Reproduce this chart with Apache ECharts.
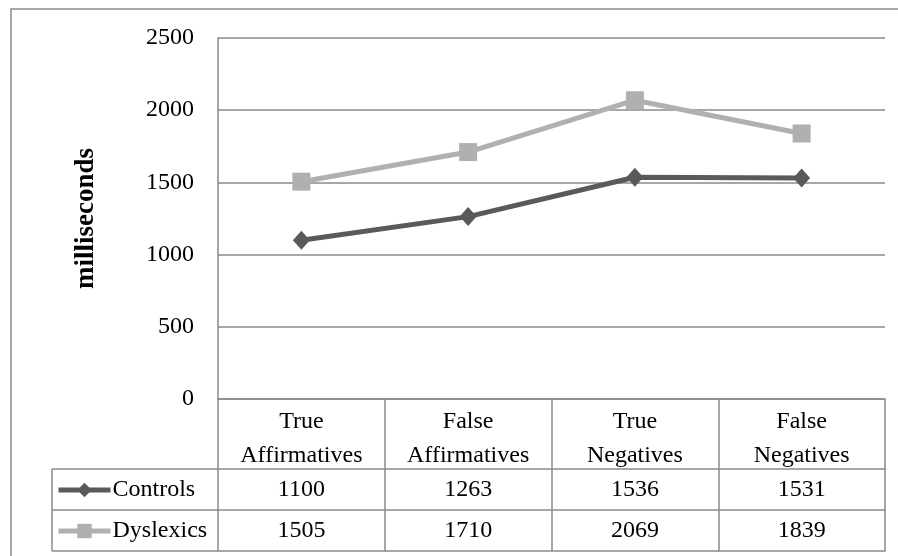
<!DOCTYPE html>
<html>
<head>
<meta charset="utf-8">
<script src="https://cdn.jsdelivr.net/npm/echarts@6/dist/echarts.min.js"></script>
<style>
  html, body { margin: 0; padding: 0; background: #fff; }
  #chart { width: 898px; height: 556px; }
</style>
</head>
<body>
<div id="chart"></div>
<script>
// Response times per condition
const categories = ['True\nAffirmatives', 'False\nAffirmatives', 'True\nNegatives', 'False\nNegatives'];
const seriesNames = ['Controls', 'Dyslexics'];
const controls = [1100, 1263, 1536, 1531];
const dyslexics = [1505, 1710, 2069, 1839];
const yTicks = [0, 500, 1000, 1500, 2000, 2500];

const FONT = '"Liberation Serif", "Times New Roman", serif';
const GRID_COLOR = '#8a8a8a';
const FS = 24;
const DARK = '#5a5a5a';
const LIGHT = '#b0b0b0';

// grid geometry (px)
const G = { left: 218, right: 13, top: 38, bottom: 157 };
const ROW_HEADER = 70;   // header row with category names
const ROW = 41;          // each data row
const TABLE_LEFT = 52;

const chart = echarts.init(document.getElementById('chart'), null, { renderer: 'canvas' });

const gridBottomY = 556 - G.bottom;
const rowLines = [gridBottomY + ROW_HEADER, gridBottomY + ROW_HEADER + ROW, gridBottomY + ROW_HEADER + 2 * ROW];

function valueAxis(values, offset) {
  return {
    type: 'category',
    gridIndex: 0,
    position: 'bottom',
    offset: offset,
    data: values.map(String),
    boundaryGap: true,
    axisLine: { show: true, lineStyle: { color: GRID_COLOR, width: 1.5 } },
    axisTick: { show: false },
    axisLabel: { show: true, interval: 0, margin: 0, fontSize: FS, lineHeight: ROW, color: '#000', fontFamily: FONT }
  };
}

const option = {
  animation: false,
  backgroundColor: '#fff',
  grid: { left: G.left, right: G.right, top: G.top, bottom: G.bottom, containLabel: false },
  legend: {
    orient: 'vertical',
    left: 56,
    top: rowLines[0] + 9,
    padding: 0,
    itemGap: 17,
    itemWidth: 52,
    itemHeight: 18,
    selectedMode: false,
    data: seriesNames,
    lineStyle: { width: 5 },
    textStyle: { fontSize: FS, color: '#000', fontFamily: FONT, padding: [0, 0, 0, -3] }
  },
  xAxis: [
    {
      type: 'category',
      gridIndex: 0,
      data: categories,
      boundaryGap: true,
      axisLine: { show: true, lineStyle: { color: GRID_COLOR, width: 1.5 } },
      axisTick: { show: true, interval: 0, inside: false, length: ROW_HEADER + 2 * ROW, lineStyle: { color: GRID_COLOR, width: 1.5 } },
      axisLabel: { interval: 0, margin: 6, fontSize: FS, lineHeight: 34, color: '#000', fontFamily: FONT, align: 'center' }
    },
    valueAxis(controls, ROW_HEADER),
    valueAxis(dyslexics, ROW_HEADER + ROW),
    {
      type: 'category',
      gridIndex: 0,
      position: 'bottom',
      offset: ROW_HEADER + 2 * ROW,
      data: categories,
      axisLine: { show: true, lineStyle: { color: GRID_COLOR, width: 1.5 } },
      axisTick: { show: false },
      axisLabel: { show: false }
    }
  ],
  yAxis: {
    type: 'value',
    min: yTicks[0],
    max: yTicks[yTicks.length - 1],
    interval: 500,
    name: 'milliseconds',
    nameLocation: 'middle',
    nameRotate: 90,
    nameGap: 118,
    nameTextStyle: { fontSize: 27, fontWeight: 'bold', color: '#000', fontFamily: FONT },
    axisLine: { show: true, lineStyle: { color: GRID_COLOR, width: 1.5 } },
    axisTick: { show: false },
    axisLabel: { margin: 24, fontSize: FS, color: '#000', fontFamily: FONT, formatter: v => String(v) },
    splitLine: { show: true, lineStyle: { color: GRID_COLOR, width: 1.5 } }
  },
  series: [
    {
      name: seriesNames[0],
      type: 'line',
      data: controls,
      symbol: 'diamond',
      symbolSize: [17, 19],
      lineStyle: { color: DARK, width: 5 },
      itemStyle: { color: DARK },
      z: 3
    },
    {
      name: seriesNames[1],
      type: 'line',
      data: dyslexics,
      symbol: 'rect',
      symbolSize: 18,
      lineStyle: { color: LIGHT, width: 5 },
      itemStyle: { color: LIGHT },
      z: 2
    }
  ],
  graphic: [
    // outer frame
    { type: 'rect', shape: { x: 11, y: 9, width: 1000, height: 1000 }, style: { fill: null, stroke: GRID_COLOR, lineWidth: 1.5 }, silent: true },
    // legend cells of the data table
    { type: 'line', shape: { x1: TABLE_LEFT, y1: rowLines[0], x2: G.left, y2: rowLines[0] }, style: { stroke: GRID_COLOR, lineWidth: 1.5 } },
    { type: 'line', shape: { x1: TABLE_LEFT, y1: rowLines[1], x2: G.left, y2: rowLines[1] }, style: { stroke: GRID_COLOR, lineWidth: 1.5 } },
    { type: 'line', shape: { x1: TABLE_LEFT, y1: rowLines[2], x2: G.left, y2: rowLines[2] }, style: { stroke: GRID_COLOR, lineWidth: 1.5 } },
    { type: 'line', shape: { x1: TABLE_LEFT, y1: rowLines[0], x2: TABLE_LEFT, y2: rowLines[2] }, style: { stroke: GRID_COLOR, lineWidth: 1.5 } }
  ]
};

chart.setOption(option);
</script>
</body>
</html>
